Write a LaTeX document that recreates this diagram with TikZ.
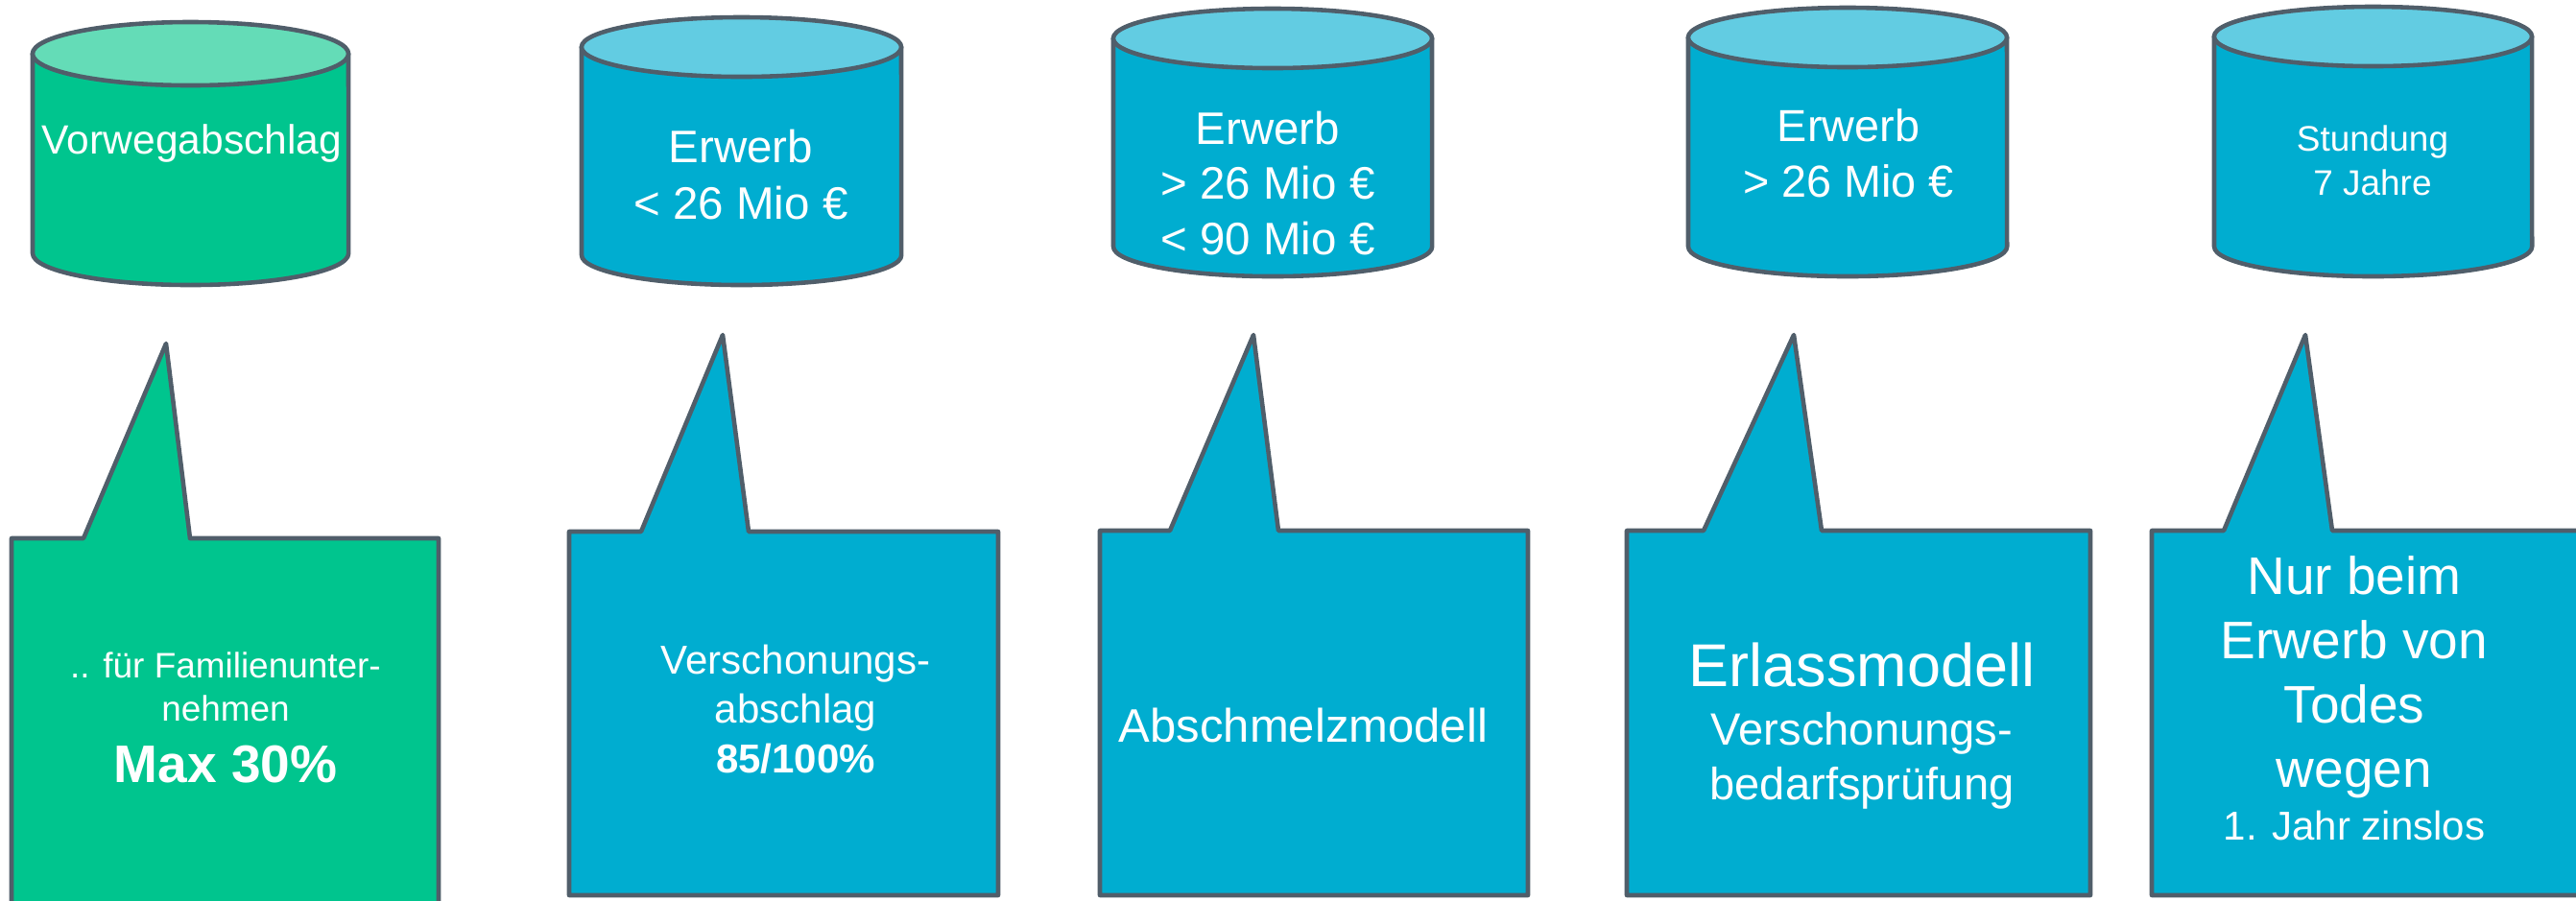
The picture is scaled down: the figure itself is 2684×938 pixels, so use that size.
\documentclass[tikz,border=0pt]{standalone}
\usepackage{fontspec}
\setmainfont{Liberation Sans}
\definecolor{edgec}{HTML}{505E6A}
\definecolor{grn}{HTML}{00C58E}
\definecolor{grntop}{HTML}{64DCB7}
\definecolor{blu}{HTML}{00ADD0}
\definecolor{blutop}{HTML}{62CCE2}
\tikzset{
  outl/.style={draw=edgec, line width=1.3pt, line join=round},
  txt/.style={text=white, inner sep=0pt, anchor=base},
}
% #1 L, #2 R, #3 T, #4 B, #5 ry (px), #6 body colour, #7 top colour
\newcommand\drawcyl[7]{%
  \pgfmathsetmacro\cylcx{(#1+#2)/2}%
  \pgfmathsetmacro\cylrx{(#2-#1)/2*0.28453}%
  \pgfmathsetmacro\cylry{#5*0.28453}%
  \path[outl, fill=#6] (#1,#3+#5) -- (#1,#4-#5)
     arc[start angle=180, end angle=360, x radius=\cylrx pt, y radius=\cylry pt]
     -- (#2,#3+#5) -- cycle;
  \path[outl, fill=#7] (\cylcx,#3+#5) ellipse[x radius=\cylrx pt, y radius=\cylry pt];
}
% #1 L, #2 R, #3 top, #4 bottom, #5 base left, #6 tip x, #7 tip y, #8 base right, #9 colour
\newcommand\drawcallout[9]{%
  \path[outl, fill=#9] (#1,#3) -- (#5,#3) -- (#6,#7) -- (#8,#3) -- (#2,#3)
     -- (#2,#4) -- (#1,#4) -- cycle;
}
\begin{document}
\begin{tikzpicture}[x=0.01cm, y=-0.01cm]
\useasboundingbox (0,0) rectangle (2684,938);
\clip (0,0) rectangle (2684,938);
\fill[white] (0,0) rectangle (2684,938);

% cylinders
\drawcyl{34}{363}{23}{297}{33}{grn}{grntop}
\drawcyl{606}{939}{18}{297}{31}{blu}{blutop}
\drawcyl{1160}{1492}{9}{288}{31}{blu}{blutop}
\drawcyl{1759}{2091}{8}{288}{31}{blu}{blutop}
\drawcyl{2307}{2638}{7}{288}{31}{blu}{blutop}

% callouts
\drawcallout{12}{457}{561}{990}{87}{173}{358}{198}{grn}
\drawcallout{593}{1040}{554}{933}{668}{753}{349}{780}{blu}
\drawcallout{1146}{1592}{553}{933}{1219}{1306}{349}{1332}{blu}
\drawcallout{1695}{2178}{553}{933}{1775}{1869}{349}{1898}{blu}
\drawcallout{2242}{2740}{553}{933}{2317}{2402}{349}{2430}{blu}

% cylinder texts
\node[txt, font=\fontsize{12.1}{14}\selectfont] (k1a) at (200,160) {Vorwegabschlag};
\node[txt, font=\fontsize{13.5}{16}\selectfont] (k2a) at (772,169) {Erwerb};
\node[txt, font=\fontsize{13.5}{16}\selectfont] (k2b) at (772,228) {< 26 Mio €};
\node[txt, font=\fontsize{13.5}{16}\selectfont] (k3a) at (1321,150) {Erwerb};
\node[txt, font=\fontsize{13.5}{16}\selectfont] (k3b) at (1321,207) {> 26 Mio €};
\node[txt, font=\fontsize{13.5}{16}\selectfont] (k3c) at (1321,265) {< 90 Mio €};
\node[txt, font=\fontsize{13.3}{16}\selectfont] (k4a) at (1926,147) {Erwerb};
\node[txt, font=\fontsize{13.3}{16}\selectfont] (k4b) at (1926,205) {> 26 Mio €};
\node[txt, font=\fontsize{10.5}{13}\selectfont] (k5a) at (2472,157) {Stundung};
\node[txt, font=\fontsize{10.5}{13}\selectfont] (k5b) at (2472,203) {7 Jahre};

% callout texts
\node[txt, font=\fontsize{10.5}{13}\selectfont] (b1a) at (235,706) {.. für Familienunter-};
\node[txt, font=\fontsize{10.5}{13}\selectfont] (b1b) at (235,751) {nehmen};
\node[txt, font=\fontsize{15.65}{18}\selectfont\bfseries] (b1c) at (235,815) {Max 30\%};

\node[txt, font=\fontsize{11.95}{14}\selectfont] (b2a) at (829,702) {Verschonungs-};
\node[txt, font=\fontsize{11.95}{14}\selectfont] (b2b) at (829,753) {abschlag};
\node[txt, font=\fontsize{11.95}{14}\selectfont\bfseries] (b2c) at (829,805) {85/100\%};

\node[txt, font=\fontsize{13.94}{16}\selectfont] (b3a) at (1358,773) {Abschmelzmodell};

\node[txt, font=\fontsize{17.9}{20}\selectfont] (b4a) at (1940,715) {Erlassmodell};
\node[txt, font=\fontsize{13.4}{15}\selectfont] (b4b) at (1940,776) {Verschonungs-};
\node[txt, font=\fontsize{13.4}{15}\selectfont] (b4c) at (1940,833) {bedarfsprüfung};

\node[txt, font=\fontsize{15.65}{18}\selectfont] (b5a) at (2453,619) {Nur beim};
\node[txt, font=\fontsize{15.65}{18}\selectfont] (b5b) at (2453,686) {Erwerb von};
\node[txt, font=\fontsize{15.65}{18}\selectfont] (b5c) at (2453,753) {Todes};
\node[txt, font=\fontsize{15.65}{18}\selectfont] (b5d) at (2453,820) {wegen};
\node[txt, font=\fontsize{11.95}{14}\selectfont] (b5e) at (2453,875) {1. Jahr zinslos};
\end{tikzpicture}
\end{document}
